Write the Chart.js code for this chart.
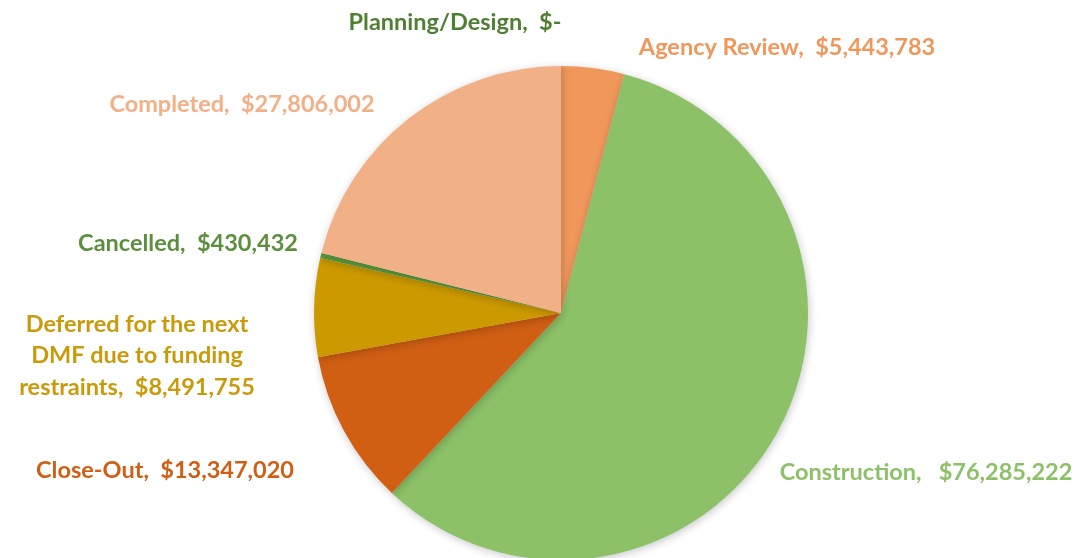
<!DOCTYPE html>
<html>
<head>
<meta charset="utf-8">
<script src="https://cdn.jsdelivr.net/npm/chart.js@4"></script>
<style>
html,body{margin:0;padding:0;background:#fff;overflow:hidden;}
#wrap{position:relative;width:1081px;height:562px;}
</style>
</head>
<body>
<div id="wrap"><canvas id="c"></canvas></div>
<script>
const categories = ["Planning/Design", "Agency Review", "Construction", "Close-Out",
  "Deferred for the next DMF due to funding restraints", "Cancelled", "Completed"];
const amounts = [0, 5443783, 76285222, 13347020, 8491755, 430432, 27806002];
const valueLabels = ["$-", "$5,443,783", "$76,285,222", "$13,347,020", "$8,491,755", "$430,432", "$27,806,002"];
const sliceColors = ["#548235", "#F0975C", "#8CC168", "#D05F13", "#CC9A00", "#5B9A3C", "#F2B086"];
const labelColors = ["#4E7F33", "#F0975C", "#8CC168", "#D05F13", "#C99A0A", "#5B8F3E", "#F2B086"];
// label text lines and anchor (center x, middle y of first line) in canvas pixels
const labelLines = [
  ["Planning/Design,  $-"],
  ["Agency Review,  $5,443,783"],
  ["Construction,   $76,285,222"],
  ["Close-Out,  $13,347,020"],
  ["Deferred for the next", "DMF due to funding", "restraints,  $8,491,755"],
  ["Cancelled,  $430,432"],
  ["Completed,  $27,806,002"]
];
const labelAnchors = [[455, 22], [787, 47], [926, 472], [165, 470], [137, 324], [188, 243], [242, 104]];

const labelPlugin = {
  id: 'labels',
  afterDraw(chart) {
    const ctx = chart.ctx;
    ctx.save();
    ctx.font = 'bold 23.5px Lato, "Open Sans", sans-serif';
    ctx.textAlign = 'center';
    ctx.textBaseline = 'middle';
    labelLines.forEach((lines, i) => {
      ctx.fillStyle = labelColors[i];
      const [x, y] = labelAnchors[i];
      lines.forEach((t, j) => ctx.fillText(t, x, y + j * 31.5));
    });
    ctx.restore();
  }
};
const shadowPlugin = {
  id: 'shadow',
  beforeDatasetsDraw(chart) {
    const ctx = chart.ctx;
    ctx.save();
    ctx.shadowColor = 'rgba(0,0,0,0.22)';
    ctx.shadowBlur = 8;
    ctx.shadowOffsetX = 1;
    ctx.shadowOffsetY = 2;
  },
  afterDatasetsDraw(chart) {
    chart.ctx.restore();
  }
};

new Chart(document.getElementById('c'), {
  type: 'pie',
  data: {
    labels: categories,
    datasets: [{
      data: amounts,
      backgroundColor: sliceColors,
      borderWidth: 0
    }]
  },
  options: {
    responsive: true,
    maintainAspectRatio: false,
    animation: false,
    layout: { padding: { top: 66, bottom: 2, left: 314, right: 273 } },
    plugins: { legend: { display: false }, tooltip: { enabled: false } }
  },
  plugins: [shadowPlugin, labelPlugin]
});
</script>
</body>
</html>
